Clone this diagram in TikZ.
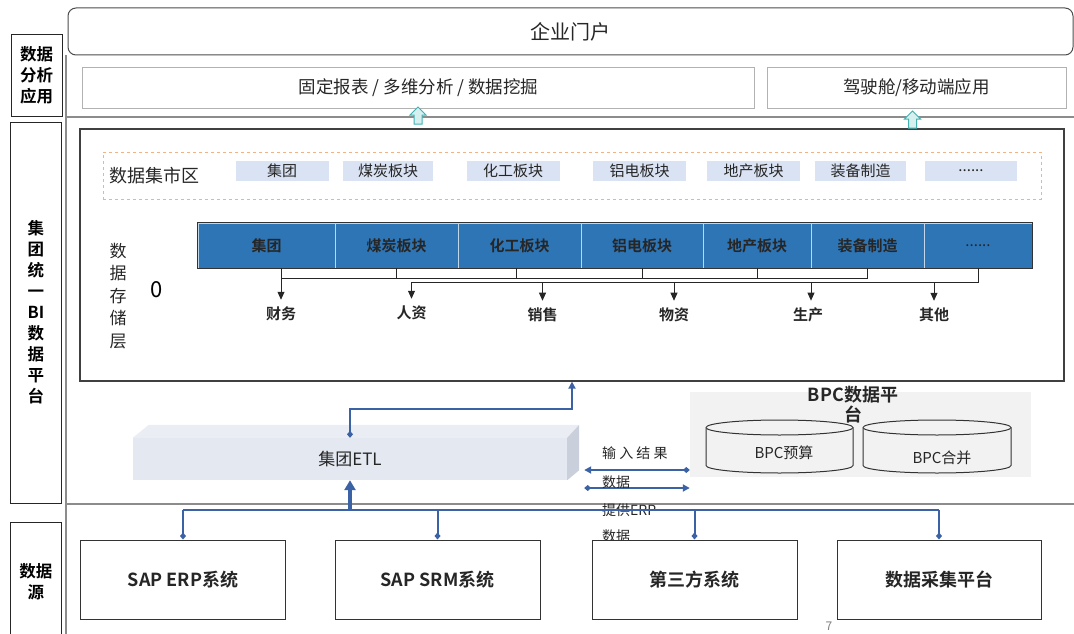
\documentclass[tikz,border=0pt]{standalone}
\usepackage{fontspec}
\setmainfont{Noto Sans CJK SC}[BoldFont={Noto Sans CJK SC Bold}]
\usetikzlibrary{arrows.meta}

\definecolor{barblue}{RGB}{46,117,182}
\definecolor{martblue}{RGB}{218,227,243}
\definecolor{linkblue}{RGB}{60,98,166}
\definecolor{martorange}{RGB}{244,177,131}
\definecolor{arrowteal}{RGB}{64,178,178}
\definecolor{arrowfill}{RGB}{214,240,240}
\definecolor{etlfront}{RGB}{227,232,241}
\definecolor{etltop}{RGB}{234,237,244}
\definecolor{etlside}{RGB}{201,207,219}
\definecolor{bpcgray}{RGB}{242,242,242}

\tikzstyle{txt} = [inner sep=0pt, text=black!85]
\tikzstyle{sidebox} = [
    rectangle, draw=black!85, line width=1pt,
    minimum width=51pt, align=center, inner sep=0pt,
    font=\bfseries\fontsize{16.5}{21}\selectfont
]
\tikzstyle{panel} = [black!45, line width=1.8pt]
\tikzstyle{portalbox} = [
    rectangle, rounded corners=8pt,
    minimum width=1005pt, minimum height=47pt,
    draw=black!70, line width=1pt,
    font=\fontsize{20}{22}\selectfont, text=black!85
]
\tikzstyle{appbox} = [
    rectangle, minimum height=40pt,
    draw=black!30, line width=1pt,
    font=\fontsize{17.5}{20}\selectfont, text=black!85
]
\tikzstyle{storebox} = [
    rectangle, minimum width=984pt, minimum height=252pt,
    draw=black!75, line width=1.2pt
]
\tikzstyle{martbox} = [
    rectangle, minimum width=938pt, minimum height=47pt,
    draw=martorange, dashed, line width=1pt
]
\tikzstyle{martcell} = [
    rectangle, fill=martblue, minimum height=20pt, inner sep=0pt,
    font=\fontsize{15}{17}\selectfont, text=black!85
]
\tikzstyle{barcell} = [
    rectangle, fill=barblue, draw=white!70!barblue, line width=0.6pt,
    minimum height=45pt, inner sep=0pt,
    font=\bfseries\fontsize{15}{17}\selectfont, text=black!85
]
\tikzstyle{lbl} = [inner sep=0pt, font=\bfseries\fontsize{15}{17}\selectfont, text=black!85]
\tikzstyle{tree} = [black!85, line width=0.8pt]
\tikzstyle{treearrow} = [tree, -{Triangle[length=8pt,width=7pt]}, shorten >=7pt]
\tikzstyle{hollowup} = [draw=arrowteal, fill=arrowfill, line width=1pt, line join=miter]
\tikzstyle{etlbox} = [
    rectangle, fill=etlfront, minimum width=434pt, minimum height=42pt,
    inner sep=0pt, font=\fontsize{17}{20}\selectfont, text=black!85
]
\tikzstyle{cyl} = [draw=black!80, fill=bpcgray, line width=1pt]
\tikzstyle{note} = [inner sep=0pt, anchor=west, font=\fontsize{14}{16}\selectfont, text=black!85]
\tikzstyle{srcbox} = [
    rectangle, draw=black!80, line width=1pt, fill=white,
    minimum height=79pt, inner sep=0pt,
    font=\bfseries\fontsize{18}{21}\selectfont, text=black!85
]
\tikzstyle{flow} = [linkblue, line width=2pt]
\tikzstyle{bigflow} = [linkblue, line width=4pt, -{Triangle[length=10pt,width=11pt]}]

\begin{document}
\begin{tikzpicture}[x=1pt, y=-1pt]
    \useasboundingbox (0,0) rectangle (1074,634);

    % layer labels
    \node (lapp) [sidebox, minimum height=81pt] at (36.5,75.5) {数据\\分析\\应用};
    \node (lbi) [sidebox, minimum height=381pt] at (36,312.5) {集\\团\\统\\一\\BI\\数\\据\\平\\台};
    \node (lsrc) [sidebox, minimum height=120pt] at (36,582) {数据\\源};

    % panel lines
    \draw[panel] (66,55) -- (66,640);
    \draw[panel] (66,117) -- (1074,117);
    \draw[panel] (66,504) -- (1074,504);

    % application row
    \node (portal) [portalbox] at (570.5,31.5) {企业门户};
    \node (report) [appbox, minimum width=672pt] at (418.5,88) {固定报表 / 多维分析 / 数据挖掘};
    \node (cockpit) [appbox, minimum width=299pt] at (916.5,88) {驾驶舱/移动端应用};

    % storage layer
    \node (store) [storebox] at (572,255) {};
    \node (mart) [martbox] at (572,175.5) {};
    \node (martlbl) [txt, font=\fontsize{18}{20}\selectfont] at (154.5,176) {数据集市区};
    \node (m1) [martcell, minimum width=93pt] at (282,171) {集团};
    \node (m2) [martcell, minimum width=90pt] at (388,171) {煤炭板块};
    \node (m3) [martcell, minimum width=93pt] at (513,171) {化工板块};
    \node (m4) [martcell, minimum width=93pt] at (639.5,171) {铝电板块};
    \node (m5) [martcell, minimum width=93pt] at (753.5,171) {地产板块};
    \node (m6) [martcell, minimum width=91pt] at (860.5,171) {装备制造};
    \node (m7) [martcell, minimum width=92pt] at (971,171) {......};

    \node (storelbl) [txt, align=center, font=\fontsize{17}{22.5}\selectfont] at (118,296) {数\\据\\存\\储\\层};
    \node (zero) [txt, text=black, font=\fontsize{22}{24}\selectfont] at (157,290) {0};

    \node (b1) [barcell, minimum width=137pt] at (266.5,245.5) {集团};
    \node (b2) [barcell, minimum width=123pt] at (396.5,245.5) {煤炭板块};
    \node (b3) [barcell, minimum width=123pt] at (519.5,245.5) {化工板块};
    \node (b4) [barcell, minimum width=122pt] at (642,245.5) {铝电板块};
    \node (b5) [barcell, minimum width=108pt] at (757,245.5) {地产板块};
    \node (b6) [barcell, minimum width=113pt] at (867.5,245.5) {装备制造};
    \node (b7) [barcell, minimum width=108pt, font=\fontsize{15}{17}\selectfont] at (978,245.5) {......};
    \draw[black!80, line width=1pt] (b1.north west) rectangle (b7.south east);

    \node (cw) [lbl] at (281,314) {财务};
    \node (hr) [lbl] at (411.5,313) {人资};
    \node (xs) [lbl] at (542.5,315) {销售};
    \node (wz) [lbl] at (674,315) {物资};
    \node (sc) [lbl] at (808,315) {生产};
    \node (qt) [lbl] at (934,315) {其他};

    % storage connectors
    \coordinate (busa) at (0,278);
    \coordinate (busb) at (0,282);
    \draw[tree] ([xshift=14.5pt]b1.south) |- (b6.south |- busa);
    \draw[tree] (b2.south) -- (b2.south |- busa);
    \draw[tree] ([xshift=-3pt]b3.south) -- ([xshift=-3pt]b3.south |- busa);
    \draw[tree] (b4.south) -- (b4.south |- busa);
    \draw[tree] (b5.south) -- (b5.south |- busa);
    \draw[tree] (b6.south) -- (b6.south |- busa);
    \draw[tree] (b7.south) |- (hr.north |- busb);
    \draw[treearrow] ([xshift=14.5pt]b1.south) -- (cw.north);
    \draw[treearrow] (hr.north |- busb) -- (hr.north);
    \draw[treearrow] (xs.north |- busb) -- (xs.north);
    \draw[treearrow] (wz.north |- busb) -- (wz.north);
    \draw[treearrow] ([xshift=3pt]sc.north |- busb) -- ([xshift=3pt]sc.north);
    \draw[treearrow] (qt.north |- busb) -- (qt.north);

    % hollow arrows up to the application row
    \draw[hollowup] (414,124) -- (422,124) -- (422,115) -- (426,115) -- (418,107) -- (410,115) -- (414,115) -- cycle;
    \draw[hollowup] (908.5,128) -- (916.5,128) -- (916.5,119) -- (920.5,119) -- (912.5,111) -- (904.5,119) -- (908.5,119) -- cycle;

    % ETL block
    \node (etl) [etlbox] at (350,459) {集团ETL};
    \fill[etltop] (etl.north west) -- ++(16,-13) -- ([xshift=12pt,yshift=13pt]etl.north east) -- (etl.north east) -- cycle;
    \fill[etlside] (etl.north east) -- ([xshift=12pt,yshift=13pt]etl.north east) -- ([xshift=12pt,yshift=10pt]etl.south east) -- (etl.south east) -- cycle;

    % BPC platform
    \node (bpc) [fill=bpcgray, minimum width=341pt, minimum height=85pt, inner sep=0pt] at (860.5,434.5) {};
    \draw[cyl] (706,427.5) -- (706,465.5) arc[start angle=180, end angle=360, x radius=73.5pt, y radius=7.5pt]
        -- (853,427.5) arc[start angle=0, end angle=180, x radius=73.5pt, y radius=7.5pt] -- cycle;
    \draw[cyl] (706,427.5) arc[start angle=180, end angle=360, x radius=73.5pt, y radius=7.5pt];
    \draw[cyl] (863,427.5) -- (863,465.5) arc[start angle=180, end angle=360, x radius=74pt, y radius=7.5pt]
        -- (1011,427.5) arc[start angle=0, end angle=180, x radius=74pt, y radius=7.5pt] -- cycle;
    \draw[cyl] (863,427.5) arc[start angle=180, end angle=360, x radius=74pt, y radius=7.5pt];
    \node (bpct) [txt, align=center, font=\bfseries\fontsize{18}{20}\selectfont] at (853,405) {BPC数据平\\台};
    \node (bpcys) [txt, font=\fontsize{15}{17}\selectfont] at (784,453) {BPC预算};
    \node (bpchb) [txt, font=\fontsize{15}{17}\selectfont] at (942,458) {BPC合并};

    % ETL <-> BPC
    \coordinate (res) at (0,470);
    \coordinate (erpdata) at (0,488);
    \draw[flow, {Triangle[length=7pt,width=7pt]}-{Diamond[length=7pt,width=6pt]}] ([xshift=17pt]etl.east |- res) -- (bpc.west |- res);
    \draw[flow, {Diamond[length=7pt,width=6pt]}-{Triangle[length=7pt,width=7pt]}] ([xshift=17pt]etl.east |- erpdata) -- (bpc.west |- erpdata);
    \node (n1) [note] at (602,453) {输 入 结 果};
    \node (n2) [note] at (602,482) {数据};
    \node (n3) [note] at (602,510) {提供ERP};
    \node (n4) [note] at (602,536) {数据};

    % data sources
    \node (erp) [srcbox, minimum width=205pt] at (183,579.5) {SAP ERP系统};
    \node (srm) [srcbox, minimum width=205pt] at (437.5,579.5) {SAP SRM系统};
    \node (tp) [srcbox, minimum width=205pt] at (694.5,579.5) {第三方系统};
    \node (dc) [srcbox, minimum width=204pt] at (939,579.5) {数据采集平台};
    \node (pageno) [txt, text=black!50, font=\fontsize{12}{14}\selectfont] at (829,626) {7};

    % source connectors
    \coordinate (bus) at (350,510);
    \draw[flow] (erp.north |- bus) -- (dc.north |- bus);
    \draw[flow, {Diamond[length=7pt,width=6pt]}-] (erp.north) -- (erp.north |- bus);
    \draw[flow, {Diamond[length=7pt,width=6pt]}-] (srm.north) -- (srm.north |- bus);
    \draw[flow, {Diamond[length=7pt,width=6pt]}-] (tp.north) -- (tp.north |- bus);
    \draw[flow, {Diamond[length=7pt,width=6pt]}-] (dc.north) -- (dc.north |- bus);
    \draw[bigflow] (bus) -- (etl.south);
    \draw[flow, {Diamond[length=7pt,width=6pt]}-{Triangle[length=7pt,width=7pt]}] (etl.north) -- ++(0,-29) -| (store.south);
\end{tikzpicture}
\end{document}
